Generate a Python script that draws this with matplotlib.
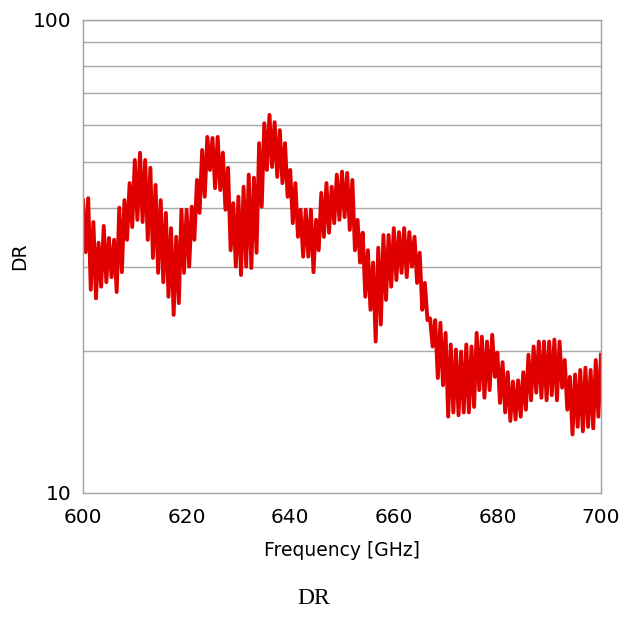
import numpy as np
import matplotlib
matplotlib.use('Agg')
import matplotlib.pyplot as plt
from matplotlib.ticker import FixedLocator, NullFormatter

# frequency grid [GHz] and DR (alternating peaks / dips)
freq = np.arange(600, 700.01, 0.5)
dr = [
    41.6, 32.3, 42.0, 26.9, 37.4, 25.8, 33.8, 27.3, 36.7, 27.9,   # 600-604.5
    34.6, 28.6, 34.3, 26.6, 40.1, 29.3, 41.6, 34.3, 45.2, 36.5,   # 605-609.5
    50.6, 37.8, 52.4, 37.4, 50.6, 34.3, 48.7, 31.4, 44.8, 29.2,   # 610-614.5
    41.6, 27.9, 39.1, 26.0, 36.3, 23.8, 34.8, 25.2, 39.7, 29.2,   # 615-619.5
    39.7, 30.1, 40.3, 34.3, 45.9, 39.1, 53.1, 42.3, 56.6, 48.2,   # 620-624.5
    56.3, 44.1, 56.6, 43.7, 52.4, 39.7, 48.7, 32.6, 41.0, 30.1,   # 625-629.5
    42.3, 28.9, 44.4, 30.1, 47.1, 29.9, 46.4, 32.2, 54.9, 40.3,   # 630-634.5
    60.5, 48.2, 63.0, 48.9, 60.8, 46.6, 58.5, 45.2, 54.9, 42.3,   # 635-639.5
    48.2, 37.2, 45.2, 34.8, 39.7, 31.6, 39.7, 31.6, 39.7, 29.3,   # 640-644.5
    37.8, 32.6, 43.1, 34.8, 45.2, 35.5, 44.4, 37.2, 47.1, 37.8,   # 645-649.5
    47.8, 38.3, 47.5, 36.0, 45.9, 32.6, 37.8, 30.7, 35.5, 26.0,   # 650-654.5
    32.6, 24.4, 30.7, 20.9, 33.0, 22.7, 35.1, 25.6, 35.1, 27.3,   # 655-659.5
    36.3, 28.2, 35.6, 29.2, 36.3, 28.6, 35.6, 30.1, 34.8, 27.8,   # 660-664.5
    32.2, 24.4, 27.8, 23.2, 23.4, 20.4, 23.2, 17.5, 22.9, 16.9,   # 665-669.5
    21.8, 14.5, 20.6, 14.8, 20.1, 14.6, 19.9, 14.8, 20.6, 14.8,   # 670-674.5
    20.4, 15.2, 21.8, 16.5, 21.4, 15.9, 20.9, 16.5, 21.6, 17.6,   # 675-679.5
    19.8, 15.5, 18.9, 14.8, 18.0, 14.2, 17.2, 14.3, 17.3, 14.5,   # 680-684.5
    18.0, 15.0, 19.6, 15.7, 20.4, 16.3, 20.9, 15.9, 20.9, 15.7,   # 685-689.5
    20.9, 16.1, 21.1, 15.7, 20.9, 16.7, 19.1, 15.0, 17.6, 13.3,   # 690-694.5
    17.8, 13.8, 18.2, 13.5, 18.4, 13.8, 18.2, 13.7, 19.1, 14.5,   # 695-699.5
    19.6,                                                         # 700
]

xticks = [600, 620, 640, 660, 680, 700]
grid_levels = [20, 30, 40, 50, 60, 70, 80, 90]

fig = plt.figure(figsize=(6.27, 6.19), dpi=100)
ax = fig.add_axes([0.1324, 0.2036, 0.8261, 0.7641])

ax.plot(freq, dr, color='#e00000', lw=2.8, solid_joinstyle='round')

ax.set_yscale('log')
ax.set_xlim(600, 700)
ax.set_ylim(10, 100)

ax.set_xticks(xticks)
ax.set_xticklabels([str(t) for t in xticks])
ax.yaxis.set_major_locator(FixedLocator([10, 100]))
ax.set_yticklabels(['10', '100'])
ax.yaxis.set_minor_locator(FixedLocator(grid_levels))
ax.yaxis.set_minor_formatter(NullFormatter())

for lv in grid_levels + [100]:
    ax.axhline(lv, color='#a8a8a8', lw=1, zorder=0)

ax.tick_params(axis='both', which='both', length=0, labelsize=14.5)
ax.tick_params(axis='x', pad=11)
ax.tick_params(axis='y', pad=8)
for sp in ax.spines.values():
    sp.set_color('#a0a0a0')
    sp.set_linewidth(1)

ax.set_xlabel('Frequency [GHz]', fontsize=13.5, labelpad=10)
ax.set_ylabel('DR', fontsize=13.5, labelpad=3)

fig.text(0.5, 1 - 598 / 619, 'DR', ha='center', va='center',
         fontsize=17, family='Liberation Serif')

fig.savefig('out.png', dpi=100)
